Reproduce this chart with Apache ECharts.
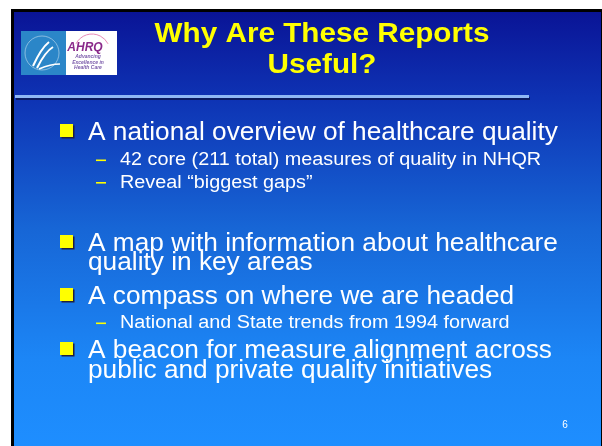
<!DOCTYPE html>
<html><head><meta charset="utf-8">
<script src="https://cdn.jsdelivr.net/npm/echarts@6/dist/echarts.min.js"></script>
<style>html,body{margin:0;padding:0;background:#fff}#c{width:602px;height:446px}</style>
</head><body><div id="c"></div>
<script>
const titleLines = ["Why Are These Reports", "Useful?"];
const titleBaselines = [41.5, 73];
const bulletTexts = [
  "A national overview of healthcare quality",
  "42 core (211 total) measures of quality in NHQR",
  "Reveal \u201cbiggest gaps\u201d",
  "A map with information about healthcare",
  "quality in key areas",
  "A compass on where we are headed",
  "National and State trends from 1994 forward",
  "A beacon for measure alignment across",
  "public and private quality initiatives"
];
const bulletLevels = [1, 2, 2, 1, 0, 1, 2, 1, 0];
const bulletBaselines = [140, 165, 187.5, 251, 269.5, 304, 328, 358, 378];
const pageNumber = "6";
const logoWords = ["AHRQ", "Advancing", "Excellence in", "Health Care"];

const FONT = '"Liberation Sans", Arial, sans-serif';
const tshadow = {textShadowColor: 'rgba(0,0,20,0.85)', textShadowOffsetX: 1.5, textShadowOffsetY: 1.5, textShadowBlur: 0};
const els = [];
// slide frame
els.push({type: 'rect', shape: {x: 11, y: 9, width: 591, height: 437}, style: {fill: '#000'}});
els.push({type: 'rect', shape: {x: 14, y: 12, width: 587, height: 434},
  style: {fill: {type: 'linear', x: 0, y: 0, x2: 0, y2: 1, colorStops: [
    {offset: 0, color: '#0a1496'}, {offset: 0.2, color: '#0e33b4'},
    {offset: 0.5, color: '#1766d6'}, {offset: 0.8, color: '#1c86f6'}, {offset: 1, color: '#1e8eff'}]}}});
// logo
els.push({type: 'rect', shape: {x: 21, y: 31, width: 45, height: 44}, style: {fill: '#2b86c8'}});
els.push({type: 'rect', shape: {x: 66, y: 31, width: 51, height: 44}, style: {fill: '#ffffff'}});
els.push({type: 'circle', shape: {cx: 42, cy: 53, r: 17}, style: {fill: 'none', stroke: 'rgba(255,255,255,0.55)', lineWidth: 0.8}});
els.push({type: 'bezierCurve', shape: {x1: 33, y1: 66, x2: 49, y2: 42, cpx1: 38, cpy1: 55, cpx2: 44, cpy2: 46}, style: {stroke: '#fff', lineWidth: 2, fill: 'none'}});
els.push({type: 'bezierCurve', shape: {x1: 37, y1: 68, x2: 53, y2: 47, cpx1: 42, cpy1: 58, cpx2: 48, cpy2: 50}, style: {stroke: '#fff', lineWidth: 2, fill: 'none'}});
els.push({type: 'bezierCurve', shape: {x1: 39, y1: 69, x2: 60, y2: 64, cpx1: 46, cpy1: 66, cpx2: 53, cpy2: 64}, style: {stroke: '#fff', lineWidth: 1.5, fill: 'none'}});
els.push({type: 'arc', shape: {cx: 92, cy: 52, r: 18, startAngle: Math.PI * 1.15, endAngle: Math.PI * 1.85}, style: {stroke: '#e88ab8', lineWidth: 1, fill: 'none'}});
els.push({type: 'text', style: {x: 85, y: 48, text: logoWords[0], fill: '#8a2a8a', font: 'italic bold 12px ' + FONT, align: 'center', verticalAlign: 'middle'}});
for (let i = 1; i < logoWords.length; i++) {
  els.push({type: 'text', style: {x: 88, y: 57 + (i - 1) * 5.5, text: logoWords[i], fill: '#7a5aaa', font: 'italic bold 5px ' + FONT, align: 'center', verticalAlign: 'middle'}});
}
// title
titleLines.forEach((t, i) => {
  els.push({type: 'text', x: 322, y: titleBaselines[i] - 7.5, scaleX: 1.06,
    style: Object.assign({x: 0, y: 0, text: t, fill: '#ffff00',
    font: 'bold 28px ' + FONT, align: 'center', verticalAlign: 'middle'},
    {textShadowColor: 'rgba(0,0,30,0.95)', textShadowOffsetX: 2, textShadowOffsetY: 2, textShadowBlur: 0})});
});
// title rule
els.push({type: 'rect', shape: {x: 16, y: 97, width: 514, height: 3}, style: {fill: '#0a1a60'}});
els.push({type: 'rect', shape: {x: 15, y: 95, width: 514, height: 3}, style: {fill: '#8fb8f4'}});
// bullets
bulletTexts.forEach((t, i) => {
  const lvl = bulletLevels[i];
  const base = bulletBaselines[i];
  const main = lvl !== 2;
  const size = main ? 25 : 18;
  const sx = main ? 1.05 : 1.1;
  const tx = main ? 88 : 120;
  if (lvl === 1) {
    els.push({type: 'rect', shape: {x: 61.5, y: base - 14.5, width: 13, height: 13}, style: {fill: '#202040'}});
    els.push({type: 'rect', shape: {x: 60, y: base - 16, width: 13, height: 13}, style: {fill: '#ffff00'}});
  }
  if (lvl === 2) {
    els.push({type: 'rect', shape: {x: 96, y: base - 5.5, width: 10, height: 1.6}, style: {fill: '#ffff00'}});
  }
  els.push({type: 'text', x: tx, y: base - size * 0.27, scaleX: sx,
    style: Object.assign({x: 0, y: 0, text: t, fill: '#ffffff',
    font: size + 'px ' + FONT, align: 'left', verticalAlign: 'middle'}, tshadow)});
});
els.push({type: 'text', style: {x: 565, y: 425.5, text: pageNumber, fill: '#ffffff', font: '10px ' + FONT, align: 'center', verticalAlign: 'middle'}});

const chart = echarts.init(document.getElementById('c'), null, {renderer: 'canvas'});
chart.setOption({animation: false, graphic: {elements: els}});
</script></body></html>
